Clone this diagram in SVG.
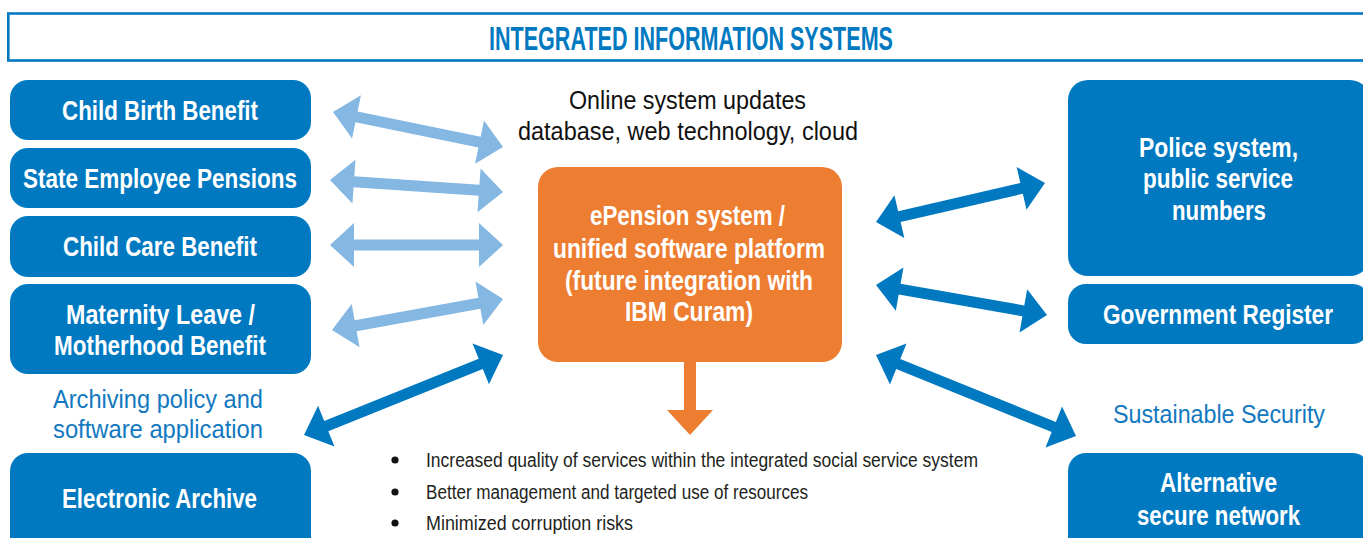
<svg xmlns="http://www.w3.org/2000/svg" width="1363" height="538" viewBox="0 0 1363 538">
<style>
.node{fill:#0079c1}
.nt{font-family:"Liberation Sans Narrow","Liberation Sans",Arial,sans-serif;font-weight:bold;font-size:27px;fill:#ffffff;text-anchor:middle}
.lbl{font-family:"Liberation Sans Narrow","Liberation Sans",Arial,sans-serif;font-size:26px;fill:#1279c0;text-anchor:middle}
.top{font-family:"Liberation Sans Narrow","Liberation Sans",Arial,sans-serif;font-size:26px;fill:#111111;text-anchor:middle}
.bul{font-family:"Liberation Sans Narrow","Liberation Sans",Arial,sans-serif;font-size:20px;fill:#231f20}
.light{fill:#85b7e3}
.dark{fill:#0079c1}
</style>
<rect x="0" y="0" width="1363" height="538" fill="#ffffff"/>
<g id="header">
<rect x="8.3" y="13.5" width="1380" height="47" fill="#ffffff" stroke="#0079c1" stroke-width="2.6"/>
<text x="691" y="50" font-family="Liberation Sans Narrow,Liberation Sans,Arial,sans-serif" font-weight="bold" font-size="34" fill="#0079c1" text-anchor="middle" textLength="404" lengthAdjust="spacingAndGlyphs">INTEGRATED INFORMATION SYSTEMS</text>
</g>
<g id="n-childbirth"><rect class="node" x="10" y="80" width="301" height="60" rx="18"/><text class="nt" x="160" y="120" textLength="196" lengthAdjust="spacingAndGlyphs">Child Birth Benefit</text></g>
<g id="n-pensions"><rect class="node" x="10" y="148" width="301" height="60" rx="18"/><text class="nt" x="160" y="188" textLength="274" lengthAdjust="spacingAndGlyphs">State Employee Pensions</text></g>
<g id="n-childcare"><rect class="node" x="10" y="216" width="301" height="61" rx="18"/><text class="nt" x="160" y="256" textLength="194" lengthAdjust="spacingAndGlyphs">Child Care Benefit</text></g>
<g id="n-maternity"><rect class="node" x="10" y="284" width="301" height="90" rx="18"/><text class="nt" x="160.5" y="324" textLength="189" lengthAdjust="spacingAndGlyphs">Maternity Leave /</text><text class="nt" x="160" y="355" textLength="212" lengthAdjust="spacingAndGlyphs">Motherhood Benefit</text></g>
<g id="l-archiving"><text class="lbl" x="158" y="408" textLength="210" lengthAdjust="spacingAndGlyphs">Archiving policy and</text><text class="lbl" x="158" y="438" textLength="210" lengthAdjust="spacingAndGlyphs">software application</text></g>
<g id="n-archive"><rect class="node" x="10" y="453" width="301" height="110" rx="18"/><text class="nt" x="159.5" y="508" textLength="195" lengthAdjust="spacingAndGlyphs">Electronic Archive</text></g>
<g id="l-online"><text class="top" x="687.5" y="109" textLength="237" lengthAdjust="spacingAndGlyphs">Online system updates</text><text class="top" x="688" y="140" textLength="340" lengthAdjust="spacingAndGlyphs">database, web technology, cloud</text></g>
<g id="n-epension"><rect x="538" y="167" width="304" height="195" rx="20" fill="#ed7d31"/><text class="nt" x="687.5" y="225" textLength="195" lengthAdjust="spacingAndGlyphs">ePension system /</text><text class="nt" x="689" y="258" textLength="272" lengthAdjust="spacingAndGlyphs">unified software platform</text><text class="nt" x="689" y="290" textLength="248" lengthAdjust="spacingAndGlyphs">(future integration with</text><text class="nt" x="689" y="321" textLength="128" lengthAdjust="spacingAndGlyphs">IBM Curam)</text></g>
<g id="n-police"><rect class="node" x="1068" y="80" width="302" height="196" rx="20"/><text class="nt" x="1218.5" y="157" textLength="159" lengthAdjust="spacingAndGlyphs">Police system,</text><text class="nt" x="1218" y="188" textLength="150" lengthAdjust="spacingAndGlyphs">public service</text><text class="nt" x="1219" y="220" textLength="94" lengthAdjust="spacingAndGlyphs">numbers</text></g>
<g id="n-govreg"><rect class="node" x="1068" y="284" width="302" height="60" rx="18"/><text class="nt" x="1218" y="324" textLength="230" lengthAdjust="spacingAndGlyphs">Government Register</text></g>
<g id="l-security"><text class="lbl" x="1219" y="423" textLength="212" lengthAdjust="spacingAndGlyphs">Sustainable Security</text></g>
<g id="n-altnet"><rect class="node" x="1068" y="453" width="302" height="110" rx="18"/><text class="nt" x="1218.5" y="492" textLength="117" lengthAdjust="spacingAndGlyphs">Alternative</text><text class="nt" x="1218.5" y="525" textLength="163" lengthAdjust="spacingAndGlyphs">secure network</text></g>
<g id="connectors">
<path class="light" transform="translate(333,112) rotate(11.63)" d="M0,0 L24,-22 L24,-5.5 L149.6,-5.5 L149.6,-22 L173.6,0 L149.6,22 L149.6,5.5 L24,5.5 L24,22 Z"/>
<path class="light" transform="translate(330,180) rotate(3.97)" d="M0,0 L24,-22 L24,-5.5 L149.4,-5.5 L149.4,-22 L173.4,0 L149.4,22 L149.4,5.5 L24,5.5 L24,22 Z"/>
<path class="light" transform="translate(330,245)" d="M0,0 L24,-22 L24,-5.5 L149,-5.5 L149,-22 L173,0 L149,22 L149,5.5 L24,5.5 L24,22 Z"/>
<path class="light" transform="translate(332,330) rotate(-10.28)" d="M0,0 L24,-22 L24,-5.5 L149.8,-5.5 L149.8,-22 L173.8,0 L149.8,22 L149.8,5.5 L24,5.5 L24,22 Z"/>
<path class="dark" transform="translate(304,435) rotate(-21.90)" d="M0,0 L24,-22 L24,-5.5 L190.5,-5.5 L190.5,-22 L214.5,0 L190.5,22 L190.5,5.5 L24,5.5 L24,22 Z"/>
<path class="dark" transform="translate(876,222) rotate(-12.99)" d="M0,0 L24,-22 L24,-5.5 L149.4,-5.5 L149.4,-22 L173.4,0 L149.4,22 L149.4,5.5 L24,5.5 L24,22 Z"/>
<path class="dark" transform="translate(876,285) rotate(9.95)" d="M0,0 L24,-22 L24,-5.5 L149.6,-5.5 L149.6,-22 L173.6,0 L149.6,22 L149.6,5.5 L24,5.5 L24,22 Z"/>
<path class="dark" transform="translate(876,355) rotate(22.05)" d="M0,0 L24,-22 L24,-5.5 L191.8,-5.5 L191.8,-22 L215.8,0 L191.8,22 L191.8,5.5 L24,5.5 L24,22 Z"/>
<path fill="#ed7d31" d="M684,361 L696,361 L696,410 L713,410 L690,435 L667,410 L684,410 Z"/>
</g>
<g id="outcomes">
<circle cx="395" cy="460" r="3.6" fill="#111111"/>
<circle cx="395" cy="492" r="3.6" fill="#111111"/>
<circle cx="395" cy="523" r="3.6" fill="#111111"/>
<text class="bul" x="426" y="467" textLength="552" lengthAdjust="spacingAndGlyphs">Increased quality of services within the integrated social service system</text>
<text class="bul" x="426" y="499" textLength="382" lengthAdjust="spacingAndGlyphs">Better management and targeted use of resources</text>
<text class="bul" x="426" y="530" textLength="207" lengthAdjust="spacingAndGlyphs">Minimized corruption risks</text>
</g>
</svg>
